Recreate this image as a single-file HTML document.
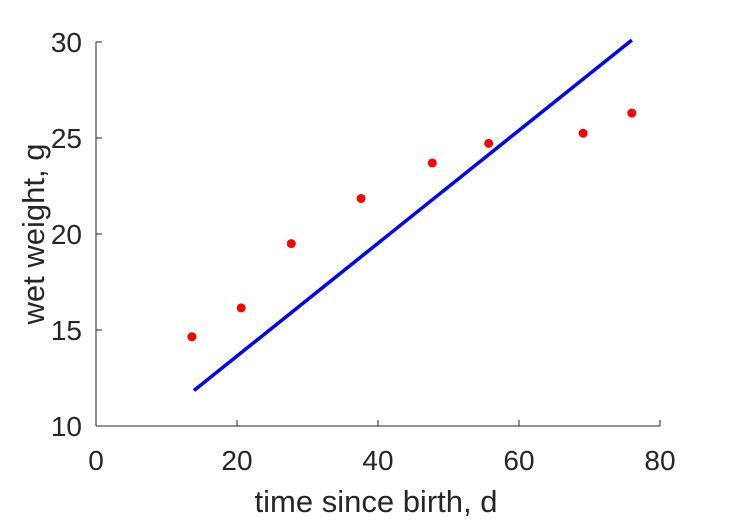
<!DOCTYPE html>
<html><head><meta charset="utf-8"><style>
body{margin:0;background:#fff;}
svg text{font-family:"Liberation Sans",sans-serif;fill:#262626;}
</style></head><body>
<svg id="chart" width="729" height="521" xmlns="http://www.w3.org/2000/svg">
<g id="axes"></g><g id="marks"></g>
</svg>
<script>
const xTicks=[0,20,40,60,80];
const yTicks=[10,15,20,25,30];
const dataX=[13.6,20.6,27.7,37.6,47.7,55.7,69.1,76.0];
const dataY=[14.65,16.15,19.5,21.85,23.7,24.72,25.25,26.3];
const fitX=[13.9,76.0];
const fitY=[11.85,30.1];
const NS="http://www.w3.org/2000/svg";
const L=96,R=660,T=42,B=426;
const sx=v=>L+(v-0)/80*(R-L);
const sy=v=>B-(v-10)/20*(B-T);
const axes=document.getElementById('axes'),marks=document.getElementById('marks');
function mk(t,a,p){const e=document.createElementNS(NS,t);for(const k in a)e.setAttribute(k,a[k]);p.appendChild(e);return e;}
let e=mk('line',{x1:L,y1:B,x2:R,y2:B,stroke:'#262626','stroke-width':1},axes);


e=mk('line',{x1:L,y1:B,x2:L,y2:T,stroke:'#262626','stroke-width':1},axes);


xTicks.forEach(v=>{
 let t=mk('line',{x1:sx(v),y1:B,x2:sx(v),y2:B-6,stroke:'#262626'},axes);
 
 
 let l=mk('text',{x:sx(v),y:B+44,'text-anchor':'middle','font-size':28},axes);l.textContent=v;
 
 
});
yTicks.forEach(v=>{
 let t=mk('line',{x1:L,y1:sy(v),x2:L+6,y2:sy(v),stroke:'#262626'},axes);
 
 
 let l=mk('text',{x:L-14,y:sy(v)+10,'text-anchor':'end','font-size':28},axes);l.textContent=v;
 
 
});
let xt=mk('text',{x:(L+R)/2-2,y:512,'text-anchor':'middle','font-size':31},axes);xt.textContent='time since birth, d';


let yt=mk('text',{x:0,y:0,'text-anchor':'middle','font-size':31,transform:`translate(44,${(T+B)/2}) rotate(-90)`},axes);yt.textContent='wet weight, g';


let fl=mk('line',{x1:sx(fitX[0]),y1:sy(fitY[0]),x2:sx(fitX[1]),y2:sy(fitY[1]),stroke:'#0000ff','stroke-width':3.5},marks);


dataX.forEach((x,i)=>{
 let c=mk('circle',{cx:sx(x),cy:sy(dataY[i]),r:4.5,fill:'#ff0000'},marks);
 
 
});
</script>
</body></html>
